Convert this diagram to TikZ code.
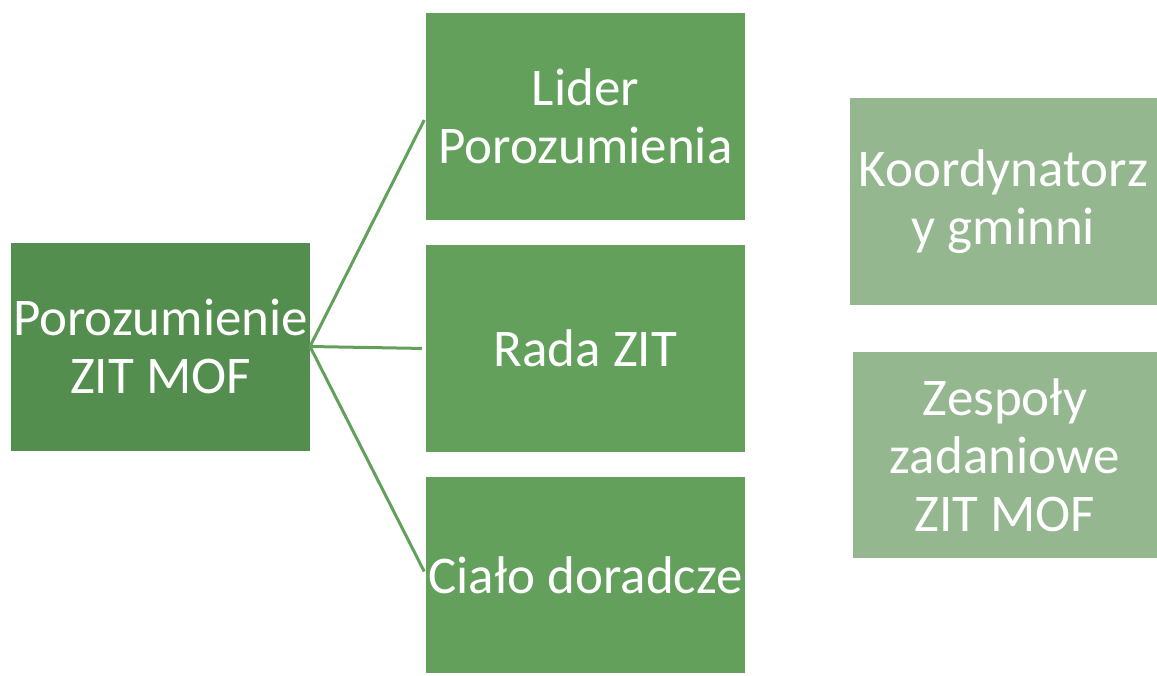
\documentclass[tikz,border=0pt]{standalone}
\usepackage{fontspec}
\setmainfont{Carlito}
\definecolor{rootgreen}{RGB}{84,142,78}
\definecolor{midgreen}{RGB}{98,160,91}
\definecolor{lightgreen}{RGB}{148,183,143}
\begin{document}
\begin{tikzpicture}[x=1pt,y=-1pt,
  box/.style={rectangle, inner sep=0pt, outer sep=0pt, text=white, align=center,
    font=\fontsize{53}{58}\selectfont},
  link/.style={draw=midgreen, line width=3pt, shorten >=4pt}]
\useasboundingbox (0,0) rectangle (1157,675);
\node[box, fill=rootgreen, minimum width=299pt, minimum height=208pt] (root) at (160.5,346.5) {Porozumienie\\ZIT MOF};
\node[box, fill=midgreen, minimum width=319pt, minimum height=207pt] (lider) at (585.5,116.5) {Lider\\Porozumienia};
\node[box, fill=midgreen, minimum width=319pt, minimum height=207pt] (rada) at (585.5,348.5) {Rada ZIT};
\node[box, fill=midgreen, minimum width=319pt, minimum height=196pt] (cialo) at (585.5,575) {Ciało doradcze};
\node[box, fill=lightgreen, minimum width=307pt, minimum height=207pt] (koord) at (1003.5,201.5) {Koordynatorz\\y gminni};
\node[box, fill=lightgreen, minimum width=304pt, minimum height=206pt] (zesp) at (1005,455) {Zespoły\\zadaniowe\\ZIT MOF};
\draw[link] (root.east) -- (lider.west);
\draw[link] (root.east) -- (rada.west);
\draw[link] (root.east) -- (cialo.west);
\end{tikzpicture}
\end{document}
